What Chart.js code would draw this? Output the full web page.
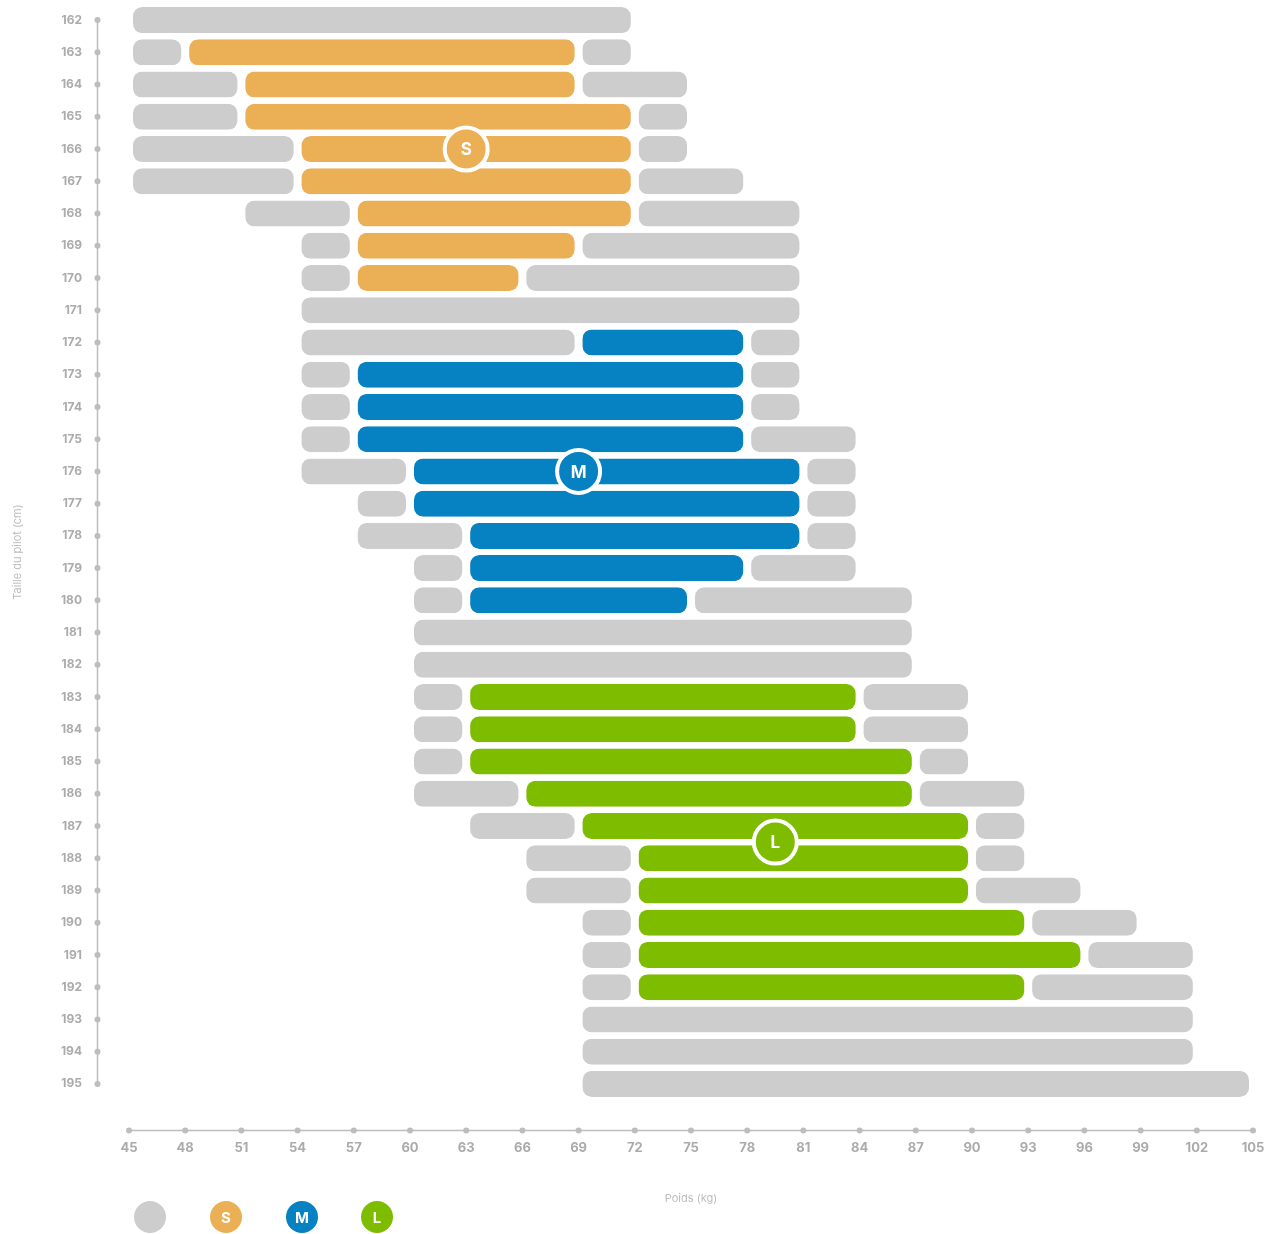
<!DOCTYPE html>
<html>
<head>
<meta charset="utf-8">
<script src="https://cdn.jsdelivr.net/npm/chart.js@4/dist/chart.umd.min.js"></script>
<style>
  html, body { margin: 0; padding: 0; background: #fff; }
  #wrap { position: relative; width: 1265px; height: 1234px; }
  .legend-dot {
    position: absolute;
    width: 32px; height: 32px; border-radius: 50%;
    color: #fff; font: 700 15px Inter, sans-serif;
    display: flex; align-items: center; justify-content: center;
  }
</style>
</head>
<body>
<div id="wrap">
  <canvas id="chart" width="1265" height="1234"></canvas>
  <div id="legend"></div>
</div>
<script>
const HEIGHTS = [162, 163, 164, 165, 166, 167, 168, 169, 170, 171, 172, 173, 174, 175, 176, 177,
  178, 179, 180, 181, 182, 183, 184, 185, 186, 187, 188, 189, 190, 191, 192, 193, 194, 195];
// full weight range accepted per height (kg)
const RANGE_MIN = [45, 45, 45, 45, 45, 45, 51, 54, 54, 54, 54, 54, 54, 54, 54, 57,
  57, 60, 60, 60, 60, 60, 60, 60, 60, 63, 66, 66, 69, 69, 69, 69, 69, 69];
const RANGE_MAX = [72, 72, 75, 75, 75, 78, 81, 81, 81, 81, 81, 81, 81, 84, 84, 84,
  84, 84, 87, 87, 87, 90, 90, 90, 93, 93, 93, 96, 99, 102, 102, 102, 102, 105];
// recommended size band (null = no size)
const FIT_MIN = [null, 48, 51, 51, 54, 54, 57, 57, 57, null, 69, 57, 57, 57, 60, 60,
  63, 63, 63, null, null, 63, 63, 63, 66, 69, 72, 72, 72, 72, 72, null, null, null];
const FIT_MAX = [null, 69, 69, 72, 72, 72, 72, 69, 66, null, 78, 78, 78, 78, 81, 81,
  81, 78, 75, null, null, 84, 84, 87, 87, 90, 90, 90, 93, 96, 93, null, null, null];
const FIT_SIZE = [null, "S", "S", "S", "S", "S", "S", "S", "S", null, "M", "M", "M", "M", "M", "M",
  "M", "M", "M", null, null, "L", "L", "L", "L", "L", "L", "L", "L", "L", "L", null, null, null];

const MARKER_LABELS = ["S", "M", "L"];
const MARKER_WEIGHTS = [63, 69, 79.5];
const MARKER_HEIGHTS = [166, 176, 187.5];

const X_TICKS = { min: 45, max: 105, step: 3 };

const GRAY = "#cdcdcd";
const SIZE_COLORS = { S: "#ebb056", M: "#0681c1", L: "#7ebc00" };
const AXIS_COLOR = "#bdbdbd";
const LABEL_COLOR = "#ababab";

const lowGray = [];
const fit = [];
const fitColors = [];
const highGray = [];

HEIGHTS.forEach((h, i) => {
  if (FIT_MIN[i] === null) {
    lowGray.push({ y: h, x: [RANGE_MIN[i], RANGE_MAX[i]] });
    return;
  }
  if (FIT_MIN[i] > RANGE_MIN[i]) lowGray.push({ y: h, x: [RANGE_MIN[i], FIT_MIN[i]] });
  fit.push({ y: h, x: [FIT_MIN[i], FIT_MAX[i]] });
  fitColors.push(SIZE_COLORS[FIT_SIZE[i]]);
  if (FIT_MAX[i] < RANGE_MAX[i]) highGray.push({ y: h, x: [FIT_MAX[i], RANGE_MAX[i]] });
});

const barStyle = {
  type: "bar",
  grouped: false,
  barThickness: 26,
  borderWidth: { left: 4, right: 4, top: 0, bottom: 0 },
  borderColor: "#ffffff",
  borderRadius: 13,
  borderSkipped: false,
  inflateAmount: 0,
  order: 2,
};

const axisDots = {
  id: "axisDots",
  beforeDatasetsDraw(chart) {
    const { ctx, chartArea, scales: { x, y } } = chart;
    const yLineX = chartArea.left - 31.5;
    const xLineY = chartArea.bottom + 30.5;
    ctx.save();
    ctx.strokeStyle = AXIS_COLOR;
    ctx.fillStyle = AXIS_COLOR;
    ctx.lineWidth = 1.5;

    const yTicks = y.ticks.map((t) => y.getPixelForValue(t.value));
    ctx.beginPath();
    ctx.moveTo(yLineX, Math.min(...yTicks));
    ctx.lineTo(yLineX, Math.max(...yTicks));
    ctx.stroke();
    yTicks.forEach((py) => {
      ctx.beginPath();
      ctx.arc(yLineX, py, 3, 0, Math.PI * 2);
      ctx.fill();
    });

    const xTicks = x.ticks.map((t) => x.getPixelForValue(t.value));
    ctx.beginPath();
    ctx.moveTo(Math.min(...xTicks), xLineY);
    ctx.lineTo(Math.max(...xTicks), xLineY);
    ctx.stroke();
    xTicks.forEach((px) => {
      ctx.beginPath();
      ctx.arc(px, xLineY, 3, 0, Math.PI * 2);
      ctx.fill();
    });
    ctx.restore();
  },
};

const markerText = {
  id: "markerText",
  afterDatasetsDraw(chart) {
    const meta = chart.getDatasetMeta(0);
    const { ctx } = chart;
    ctx.save();
    ctx.fillStyle = "#ffffff";
    ctx.font = "700 17px Inter, sans-serif";
    ctx.textAlign = "center";
    ctx.textBaseline = "middle";
    meta.data.forEach((pt, i) => {
      ctx.fillText(MARKER_LABELS[i], pt.x, pt.y + 1);
    });
    ctx.restore();
  },
};

new Chart(document.getElementById("chart"), {
  data: {
    datasets: [
      {
        type: "scatter",
        label: "Tailles",
        data: MARKER_WEIGHTS.map((w, i) => ({ x: w, y: MARKER_HEIGHTS[i] })),
        pointRadius: 21.5,
        pointHoverRadius: 21.5,
        pointBorderWidth: 4,
        pointBorderColor: "#ffffff",
        pointBackgroundColor: MARKER_LABELS.map((s) => SIZE_COLORS[s]),
        clip: false,
        order: 0,
      },
      { ...barStyle, label: "Hors taille", data: lowGray, backgroundColor: GRAY },
      { ...barStyle, label: "Taille", data: fit, backgroundColor: fitColors },
      { ...barStyle, label: "Hors taille", data: highGray, backgroundColor: GRAY },
    ],
  },
  options: {
    indexAxis: "y",
    responsive: false,
    animation: false,
    layout: { autoPadding: false, padding: { top: 4, right: 12, left: 0, bottom: 0 } },
    plugins: {
      legend: { display: false },
      tooltip: { enabled: false },
    },
    scales: {
      x: {
        type: "linear",
        position: "bottom",
        min: X_TICKS.min,
        max: X_TICKS.max,
        offset: false,
        grid: { display: false, drawTicks: false },
        border: { display: false },
        ticks: {
          stepSize: X_TICKS.step,
          padding: 40,
          color: LABEL_COLOR,
          font: { family: "Inter", size: 13, weight: "700" },
        },
        title: {
          display: true,
          text: "Poids (kg)",
          color: "#bdbdbd",
          font: { family: "Inter", size: 11 },
          padding: { top: 0, bottom: 29 },
        },
        afterFit(scale) {
          scale.height = 134;
          scale.paddingLeft = 0;
          scale.paddingRight = 0;
        },
      },
      y: {
        type: "linear",
        reverse: true,
        min: 161.5,
        max: 195.5,
        offset: false,
        grid: { display: false, drawTicks: false, offset: false },
        border: { display: false },
        afterBuildTicks(scale) {
          scale.ticks = HEIGHTS.map((h) => ({ value: h }));
        },
        ticks: {
          padding: 47,
          color: LABEL_COLOR,
          font: { family: "Inter", size: 12, weight: "700" },
          callback: (v) => String(v),
        },
        title: {
          display: true,
          text: "Taille du pilot (cm)",
          color: "#bdbdbd",
          font: { family: "Inter", size: 11 },
          padding: { top: 11, bottom: 0 },
        },
        afterFit(scale) {
          scale.width = 129;
          scale.paddingTop = 0;
          scale.paddingBottom = 0;
        },
      },
    },
  },
  plugins: [axisDots, markerText],
});

// legend
const legendItems = [
  { text: "", color: GRAY, left: 134 },
  { text: "S", color: SIZE_COLORS.S, left: 210 },
  { text: "M", color: SIZE_COLORS.M, left: 286 },
  { text: "L", color: SIZE_COLORS.L, left: 361 },
];
const legendEl = document.getElementById("legend");
legendItems.forEach((item) => {
  const d = document.createElement("div");
  d.className = "legend-dot";
  d.style.left = item.left + "px";
  d.style.top = "1201px";
  d.style.background = item.color;
  d.textContent = item.text;
  legendEl.appendChild(d);
});
</script>
</body>
</html>
